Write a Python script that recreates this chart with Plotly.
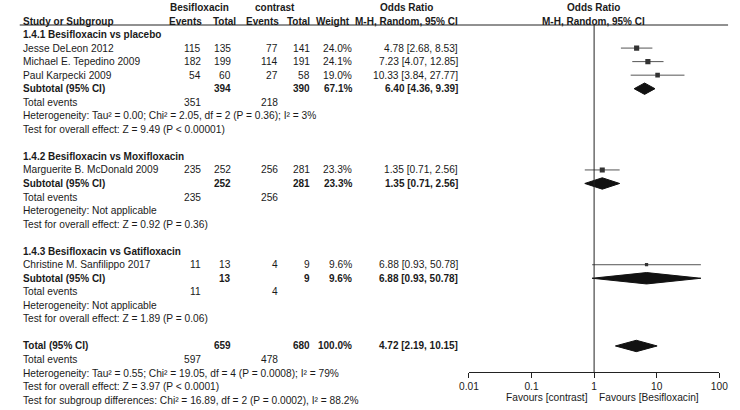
import plotly.graph_objects as go

# ---------------- data ----------------
studies = ["Jesse DeLeon 2012", "Michael E. Tepedino 2009", "Paul Karpecki 2009",
           "Marguerite B. McDonald 2009", "Christine M. Sanfilippo 2017"]
study_group = [0, 0, 0, 1, 2]
bes_events = [115, 182, 54, 235, 11]
bes_total = [135, 199, 60, 252, 13]
con_events = [77, 114, 27, 256, 4]
con_total = [141, 191, 58, 281, 9]
weights = [24.0, 24.1, 19.0, 23.3, 9.6]
or_est = [4.78, 7.23, 10.33, 1.35, 6.88]
or_lo = [2.68, 4.07, 3.84, 0.71, 0.93]
or_hi = [8.53, 12.85, 27.77, 2.56, 50.78]

sub_names = ["1.4.1 Besifloxacin vs placebo", "1.4.2 Besifloxacin vs Moxifloxacin",
             "1.4.3 Besifloxacin vs Gatifloxacin"]
sub_bes_total = [394, 252, 13]
sub_con_total = [390, 281, 9]
sub_bes_events = [351, 235, 11]
sub_con_events = [218, 256, 4]
sub_weight = [67.1, 23.3, 9.6]
sub_est = [6.40, 1.35, 6.88]
sub_lo = [4.36, 0.71, 0.93]
sub_hi = [9.39, 2.56, 50.78]
sub_het = ["Heterogeneity: Tau² = 0.00; Chi² = 2.05, df = 2 (P = 0.36); I² = 3%",
           "Heterogeneity: Not applicable",
           "Heterogeneity: Not applicable"]
sub_test = ["Test for overall effect: Z = 9.49 (P < 0.00001)",
            "Test for overall effect: Z = 0.92 (P = 0.36)",
            "Test for overall effect: Z = 1.89 (P = 0.06)"]

tot_bes_total = 659
tot_con_total = 680
tot_bes_events = 597
tot_con_events = 478
tot_weight = 100.0
tot_est = 4.72
tot_lo = 2.19
tot_hi = 10.15
tot_het = "Heterogeneity: Tau² = 0.55; Chi² = 19.05, df = 4 (P = 0.0008); I² = 79%"
tot_test = "Test for overall effect: Z = 3.97 (P < 0.0001)"
tot_subdiff = "Test for subgroup differences: Chi² = 16.89, df = 2 (P = 0.0002), I² = 88.2%"

tick_vals = [0.01, 0.1, 1, 10, 100]
tick_text = ["0.01", "0.1", "1", "10", "100"]
group1_label = "Besifloxacin"
group2_label = "contrast"
fav_left = "Favours [contrast]"
fav_right = "Favours [Besifloxacin]"

# ---------------- layout helpers ----------------
W, H = 740, 410
ROW0_PX = 21.0
ROW_H = 13.54
FONT = "Liberation Sans, Arial, sans-serif"
FS = 10.2
FSB = 10.0
TXT = "#1a1a1a"

col_study = 12
col_be = 197
col_bt = 228
col_ce = 276
col_ct = 309
col_w = 352
col_or = 461

annotations = []


def txt(x_px, row, s, anchor="right", bold=False):
    annotations.append(dict(
        x=x_px / W, xref="paper", y=row, yref="y", text=(f"<b>{s}</b>" if bold else s),
        showarrow=False, xanchor=anchor, yanchor="middle", borderpad=0,
        font=dict(family=FONT, size=(FSB if bold else FS), color=TXT)))


def fmt_or(e, l, h):
    return f"{e:.2f} [{l:.2f}, {h:.2f}]"


fig = go.Figure()

# headers
txt(194, -1, group1_label, "center", True)
txt(272, -1, group2_label, "center", True)
txt(407, -1, "Odds Ratio", "center", True)
txt(599, -1, "Odds Ratio", "center", True)
txt(col_study, 0, "Study or Subgroup", "left", True)
txt(198, 0, "Events", "right", True)
txt(233, 0, "Total", "right", True)
txt(277, 0, "Events", "right", True)
txt(col_ct, 0, "Total", "right", True)
txt(350, 0, "Weight", "right", True)
txt(col_or, 0, "M-H, Random, 95% CI", "right", True)
txt(599, 0, "M-H, Random, 95% CI", "center", True)

row = 1
for g in range(len(sub_names)):
    txt(col_study, row, sub_names[g], "left", True)
    row += 1
    for i in range(len(studies)):
        if study_group[i] != g:
            continue
        txt(col_study, row, studies[i], "left")
        txt(col_be, row, str(bes_events[i]))
        txt(col_bt, row, str(bes_total[i]))
        txt(col_ce, row, str(con_events[i]))
        txt(col_ct, row, str(con_total[i]))
        txt(col_w, row, f"{weights[i]:.1f}%")
        txt(col_or, row, fmt_or(or_est[i], or_lo[i], or_hi[i]))
        fig.add_trace(go.Scatter(x=[or_lo[i], or_hi[i]], y=[row, row], mode="lines",
                                 line=dict(color="#555555", width=1), hoverinfo="skip"))
        fig.add_trace(go.Scatter(x=[or_est[i]], y=[row], mode="markers",
                                 marker=dict(symbol="square", size=1.05 * weights[i] ** 0.5,
                                             color="#333333", line=dict(width=0)),
                                 hoverinfo="skip"))
        row += 1
    txt(col_study, row, "Subtotal (95% CI)", "left", True)
    txt(col_bt, row, str(sub_bes_total[g]), bold=True)
    txt(col_ct, row, str(sub_con_total[g]), bold=True)
    txt(col_w, row, f"{sub_weight[g]:.1f}%", bold=True)
    txt(col_or, row, fmt_or(sub_est[g], sub_lo[g], sub_hi[g]), bold=True)
    hd = 0.42
    fig.add_trace(go.Scatter(
        x=[sub_lo[g], sub_est[g], sub_hi[g], sub_est[g], sub_lo[g]],
        y=[row, row - hd, row, row + hd, row], mode="lines", fill="toself",
        fillcolor="#111111", line=dict(color="#111111", width=1), hoverinfo="skip"))
    row += 1
    txt(col_study, row, "Total events", "left")
    txt(col_be, row, str(sub_bes_events[g]))
    txt(col_ce, row, str(sub_con_events[g]))
    row += 1
    txt(col_study, row, sub_het[g], "left")
    row += 1
    txt(col_study, row, sub_test[g], "left")
    row += 2

# overall
txt(col_study, row, "Total (95% CI)", "left", True)
txt(col_bt, row, str(tot_bes_total), bold=True)
txt(col_ct, row, str(tot_con_total), bold=True)
txt(col_w, row, f"{tot_weight:.1f}%", bold=True)
txt(col_or, row, fmt_or(tot_est, tot_lo, tot_hi), bold=True)
hd = 0.42
fig.add_trace(go.Scatter(
    x=[tot_lo, tot_est, tot_hi, tot_est, tot_lo],
    y=[row, row - hd, row, row + hd, row], mode="lines", fill="toself",
    fillcolor="#111111", line=dict(color="#111111", width=1), hoverinfo="skip"))
row += 1
txt(col_study, row, "Total events", "left")
txt(col_be, row, str(tot_bes_events))
txt(col_ce, row, str(tot_con_events))
row += 1
txt(col_study, row, tot_het, "left")
row += 1
txt(col_study, row, tot_test, "left")
row += 1
txt(col_study, row, tot_subdiff, "left")

# y mapping (rows -> pixels)
y_top = -ROW0_PX / ROW_H
y_bot = (H - ROW0_PX) / ROW_H
axis_px = 372
line_top_row = (25 - ROW0_PX) / ROW_H
axis_row = (axis_px - ROW0_PX) / ROW_H

# reference line at OR = 1
fig.add_trace(go.Scatter(x=[1, 1], y=[line_top_row, axis_row], mode="lines",
                         line=dict(color="#222222", width=1), hoverinfo="skip"))

# favours labels
annotations.append(dict(x=594 / W, xref="paper", y=(397 - ROW0_PX) / ROW_H, yref="y",
                        text=fav_left, showarrow=False, xanchor="right", yanchor="middle",
                        borderpad=0, font=dict(family=FONT, size=FS, color=TXT)))
annotations.append(dict(x=604 / W, xref="paper", y=(397 - ROW0_PX) / ROW_H, yref="y",
                        text=fav_right, showarrow=False, xanchor="left", yanchor="middle",
                        borderpad=0, font=dict(family=FONT, size=FS, color=TXT)))

fig.update_layout(
    width=W, height=H, margin=dict(l=0, r=0, t=0, b=0),
    paper_bgcolor="white", plot_bgcolor="white", showlegend=False,
    annotations=annotations,
    shapes=[dict(type="line", xref="paper", yref="paper", x0=10 / W, x1=737 / W,
                 y0=1 - 25 / H, y1=1 - 25 / H, line=dict(color="#222222", width=1))],
    xaxis=dict(type="log", range=[-2, 2], domain=[471 / W, 728 / W], anchor="free",
               position=(H - axis_px) / H, showgrid=False, zeroline=False,
               showline=True, linecolor="#222222", linewidth=1,
               ticks="outside", ticklen=5, tickcolor="#222222",
               tickvals=tick_vals, ticktext=tick_text,
               tickfont=dict(family=FONT, size=FS, color=TXT)),
    yaxis=dict(range=[y_bot, y_top], domain=[0, 1], visible=False,
               showgrid=False, zeroline=False),
)

fig.write_html("out.html", config={"displayModeBar": False},
               post_script="document.body.style.margin='0';document.body.style.overflow='hidden';")
